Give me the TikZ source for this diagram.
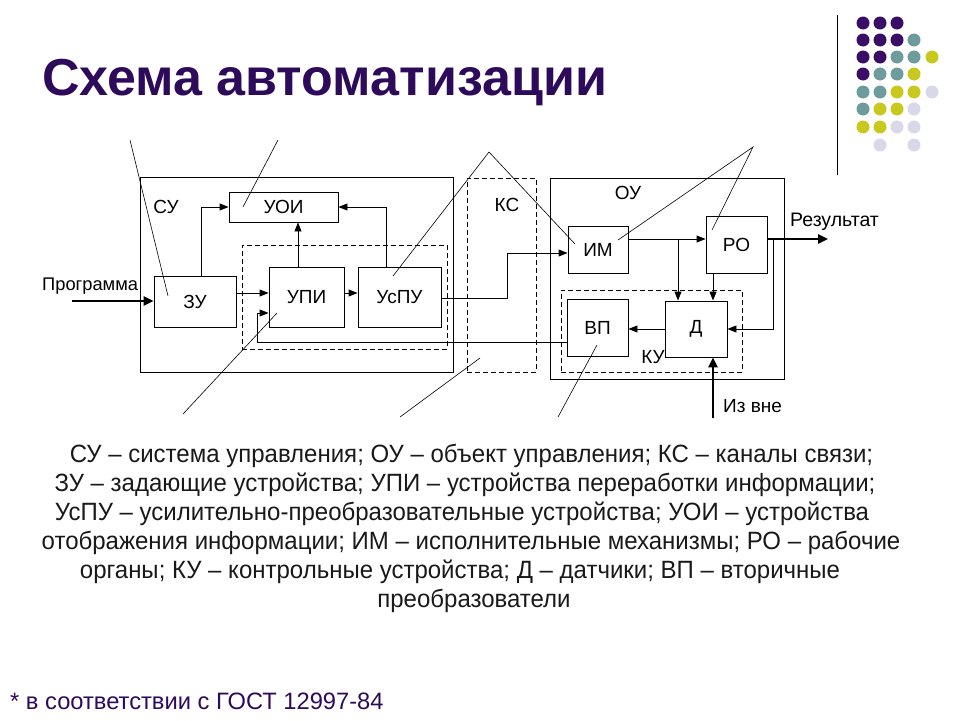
\documentclass[tikz,border=0pt]{standalone}
\usepackage{fontspec}
\setmainfont{Liberation Sans}
\newfontfamily\bodyf[FakeStretch=0.96]{Liberation Sans}
\usetikzlibrary{arrows.meta,calc}
\definecolor{ttl}{RGB}{46,10,90}
\definecolor{dpurp}{RGB}{58,14,100}
\definecolor{dteal}{RGB}{110,155,155}
\definecolor{dyel}{RGB}{200,200,30}
\definecolor{dlav}{RGB}{216,216,232}
\definecolor{body}{RGB}{25,25,25}
\tikzset{
  blk/.style={draw, line width=0.9pt, inner sep=0pt, font=\fontsize{19}{21}\selectfont},
  dbox/.style={draw, line width=0.9pt, dash pattern=on 5pt off 3pt, inner sep=0pt},
  lab/.style={font=\fontsize{19}{21}\selectfont, inner sep=0pt},
  con/.style={line width=0.9pt, -{Triangle[length=9pt,width=7pt]}},
  bigcon/.style={line width=2.4pt, -{Triangle[length=10pt,width=9pt]}},
  call/.style={line width=0.6pt},
  bodytxt/.style={font=\bodyf\fontsize{25}{28}\selectfont, text=body, inner sep=0pt, anchor=base}
}
\begin{document}
\begin{tikzpicture}[x=1pt,y=-1pt]
\useasboundingbox (0,0) rectangle (960,720);
% title
\node[anchor=base west, inner sep=0pt, text=ttl, font=\bfseries\fontsize{52}{58}\selectfont] (title) at (42,95) {Схема автоматизации};
% decoration
\draw[line width=1pt] (837,15) -- (837,175);
\foreach \x/\y/\c in {863/23/dpurp,880/23/dpurp,897/23/dpurp,
  863/40/dpurp,880/40/dpurp,897/40/dpurp,914/40/dteal,
  863/57/dpurp,880/57/dpurp,897/57/dteal,914/57/dteal,932/57/dyel,
  863/74/dpurp,880/74/dteal,897/74/dteal,914/74/dyel,
  863/92/dteal,880/92/dteal,897/92/dyel,914/92/dyel,932/92/dlav,
  863/109/dteal,880/109/dyel,897/109/dyel,914/109/dlav,
  863/127/dyel,880/127/dyel,897/127/dlav,914/127/dlav,
  880/145/dlav,914/145/dlav}
  \fill[\c] (\x,\y) circle (6.5pt);
% frames
\node[draw, line width=0.9pt, minimum width=313pt, minimum height=195pt, inner sep=0pt] (su) at (296.5,274.5) {};
\node[dbox, minimum width=205pt, minimum height=104pt] (upf) at (344.5,297) {};
\node[dbox, minimum width=69pt, minimum height=194pt] (ks) at (501.5,275) {};
\node[draw, line width=0.9pt, minimum width=234pt, minimum height=201pt, inner sep=0pt] (ou) at (667,278.5) {};
\node[dbox, minimum width=181pt, minimum height=82pt] (ku) at (651.5,331) {};
% blocks
\node[blk, minimum width=109pt, minimum height=30pt] (uoi) at (283.5,207) {УОИ};
\node[blk, minimum width=82pt, minimum height=51pt] (zu) at (195,301.5) {ЗУ};
\node[blk, minimum width=75pt, minimum height=60pt] (upi) at (306.5,297) {УПИ};
\node[blk, minimum width=83pt, minimum height=60pt] (uspu) at (399.5,297) {УсПУ};
\node[blk, minimum width=60pt, minimum height=47pt] (im) at (598,249.5) {ИМ};
\node[blk, minimum width=61pt, minimum height=57pt] (ro) at (736.5,244.5) {РО};
\node[blk, minimum width=61pt, minimum height=57pt] (vp) at (597.5,327.5) {ВП};
\node[blk, minimum width=62pt, minimum height=56pt] (d) at (696,329) {Д};
% labels
\node[lab] (lsu) at (166,207) {СУ};
\node[lab] (lks) at (507,205) {КС};
\node[lab] (lou) at (628,193) {ОУ};
\node[lab] (lku) at (653,357) {КУ};
\node[lab, anchor=west] (lext) at (723,406) {Из вне};
\node[lab, anchor=west, font=\fontsize{18.3}{20}\selectfont] (lprg) at (42,286) {Программа};
\node[lab, anchor=west, font=\fontsize{19.5}{21}\selectfont] (lres) at (790,222) {Результат};
% connectors
\draw[con] ([xshift=6pt]zu.north) |- (uoi.west);
\draw[con] ([xshift=-13.5pt]uspu.north) |- (uoi.east);
\draw[con] ([xshift=-8.5pt]upi.north) -- ([xshift=-8.5pt]upi.north |- uoi.south);
\draw[con] ([yshift=8.5pt]zu.east) -- ([yshift=8.5pt]zu.east -| upi.west);
\draw[con] ([yshift=4pt]upi.east) -- ([yshift=4pt]upi.east -| uspu.west);
\coordinate (fbc) at (257,342);
\draw[con] ([yshift=-14.5pt]vp.west) -- (fbc) |- ([yshift=-16pt]upi.west);
\coordinate (kc) at (507,298);
\draw[con] ([yshift=-1pt]uspu.east) -- (kc) |- ([yshift=-3.5pt]im.west);
\draw[con] ([yshift=10.5pt]im.east) -- ([yshift=10.5pt]im.east -| ro.west);
\coordinate (br) at (678,239);
\draw[con] (br) -- (br |- d.north);
\draw[con] ([xshift=-23.5pt]ro.south) -- ([xshift=-23.5pt]ro.south |- d.north);
\coordinate (rf) at (773,239);
\draw[con] (rf) |- (d.east);
\draw[con] (d.west) -- (d.west -| vp.east);
\coordinate (resend) at (828,239);
\draw[bigcon] ([yshift=5.5pt]ro.east) -- (resend);
\coordinate (ext) at (713,418);
\draw[bigcon] (ext) -- (ext |- d.south);
\coordinate (prg) at (72,301);
\draw[bigcon] (prg) -- (prg -| zu.west);
% callout lines
\coordinate (c1) at (130,140);
\draw[call] (c1) -- (168,296);
\coordinate (c2) at (278,140);
\draw[call] (c2) -- (243,207);
\coordinate (c3) at (489,152);
\draw[call] (393,276) -- (c3) -- (575,244);
\coordinate (c4) at (183,414);
\draw[call] (c4) -- (277,313);
\coordinate (c5) at (400,417);
\draw[call] (c5) -- (480,358);
\coordinate (c6) at (558,417);
\draw[call] (c6) -- (597,345);
\coordinate (c7) at (753,147);
\draw[call] (618,240) -- (c7) -- (712,230);
% body text
\node[bodytxt] (t1) at (471.5,462) {СУ – система управления; ОУ – объект управления; КС – каналы связи;};
\node[bodytxt] (t2) at (465,491) {ЗУ – задающие устройства; УПИ – устройства переработки информации;};
\node[bodytxt] (t3) at (462,520) {УсПУ – усилительно-преобразовательные устройства; УОИ – устройства};
\node[bodytxt] (t4) at (471,549) {отображения информации; ИМ – исполнительные механизмы; РО – рабочие};
\node[bodytxt] (t5) at (460,578) {органы; КУ – контрольные устройства; Д – датчики; ВП – вторичные};
\node[bodytxt] (t6) at (474,607) {преобразователи};
% footnote
\node[anchor=base west, inner sep=0pt, text=ttl, font=\fontsize{23.7}{26}\selectfont] (foot) at (10,709) {* в соответствии с ГОСТ 12997-84};
\end{tikzpicture}
\end{document}
